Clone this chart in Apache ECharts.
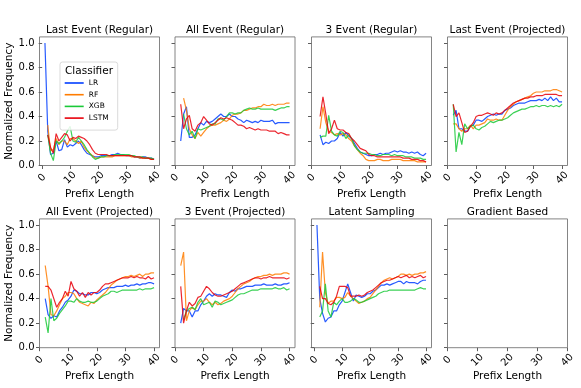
<!DOCTYPE html>
<html><head><meta charset="utf-8">
<script src="https://cdn.jsdelivr.net/npm/echarts@6/dist/echarts.min.js"></script>
<style>html,body{margin:0;padding:0;background:#fff}#c{width:581px;height:388px}</style>
</head><body><div id="c"></div>
<script>
// ---------------- DATA ----------------
const classifiers = ['LR', 'RF', 'XGB', 'LSTM'];
const panelTitles = ['Last Event (Regular)', 'All Event (Regular)', '3 Event (Regular)', 'Last Event (Projected)',
                     'All Event (Projected)', '3 Event (Projected)', 'Latent Sampling', 'Gradient Based'];
const prefixLengths = [1,2,3,4,5,6,7,8,9,10,11,12,13,14,15,16,17,18,19,20,21,22,23,24,25,26,27,28,29,30,31,32,33,34,35,36,37,38,39,40];
const xTickValues = [0, 10, 20, 30, 40];
const yTickValues = [0, 0.2, 0.4, 0.6, 0.8, 1.0];

// Last Event (Regular)
const lastReg_LR   = [1.00,0.28,0.09,0.10,0.20,0.12,0.13,0.21,0.15,0.17, 0.16,0.18,0.20,0.17,0.13,0.10,0.09,0.08,0.07,0.07, 0.08,0.08,0.08,0.08,0.09,0.09,0.10,0.09,0.09,0.08, 0.08,0.08,0.07,0.07,0.06,0.07,0.07,0.06,0.06,0.05];
const lastReg_RF   = [null,0.33,0.12,0.13,0.22,0.17,0.20,0.20,0.17,0.22, 0.22,0.20,0.18,0.20,0.15,0.12,0.10,0.08,0.06,0.06, 0.07,0.07,0.07,0.07,0.07,0.08,0.08,0.08,0.08,0.08, 0.08,0.07,0.07,0.07,0.06,0.06,0.06,0.06,0.05,0.05];
const lastReg_XGB  = [null,0.25,0.10,0.04,0.20,0.18,0.20,0.23,0.28,0.32, 0.20,0.19,0.23,0.20,0.17,0.13,0.10,0.07,0.05,0.06, 0.07,0.07,0.08,0.08,0.08,0.09,0.09,0.09,0.09,0.09, 0.09,0.08,0.08,0.07,0.07,0.07,0.06,0.06,0.06,0.05];
const lastReg_LSTM = [null,0.25,0.15,0.10,0.26,0.20,0.23,0.26,0.25,0.20, 0.23,0.22,0.24,0.23,0.22,0.20,0.17,0.13,0.10,0.09, 0.09,0.09,0.09,0.08,0.08,0.08,0.08,0.08,0.08,0.08, 0.08,0.08,0.07,0.07,0.07,0.06,0.06,0.06,0.05,0.05];
// All Event (Regular)
const allReg_LR    = [null,0.20,0.42,0.48,0.23,0.23,0.25,0.30,0.35,0.33, 0.36,0.35,0.36,0.38,0.40,0.42,0.40,0.40,0.42,0.40, 0.40,0.38,0.37,0.35,0.37,0.36,0.35,0.36,0.35,0.37, 0.36,0.36,0.36,0.37,0.34,0.35,0.35,0.35,0.35,0.35];
const allReg_RF    = [null,null,0.55,0.45,0.30,0.25,0.22,0.27,0.24,0.27, 0.30,0.32,0.33,0.33,0.34,0.35,0.37,0.36,0.38,0.41, 0.42,0.42,0.43,0.45,0.45,0.46,0.47,0.47,0.48,0.48, 0.50,0.49,0.49,0.50,0.49,0.50,0.50,0.50,0.51,0.51];
const allReg_XGB   = [null,null,0.42,0.30,0.25,0.28,0.22,0.30,0.29,0.30, 0.31,0.32,0.34,0.34,0.38,0.38,0.37,0.40,0.43,0.43, 0.42,0.43,0.43,0.45,0.46,0.47,0.46,0.46,0.47,0.46, 0.46,0.46,0.46,0.46,0.45,0.46,0.47,0.47,0.48,0.48];
const allReg_LSTM  = [null,0.50,0.30,0.38,0.41,0.30,0.28,0.33,0.35,0.40, 0.37,0.34,0.33,0.35,0.37,0.39,0.38,0.39,0.38,0.37, 0.35,0.33,0.33,0.32,0.30,0.31,0.30,0.29,0.30,0.29, 0.29,0.29,0.28,0.28,0.28,0.26,0.27,0.26,0.25,0.25];
// 3 Event (Regular)
const threeReg_LR   = [null,null,0.25,0.17,0.19,0.18,0.20,0.20,0.22,0.27, 0.24,0.27,0.24,0.22,0.18,0.14,0.11,0.10,0.09,0.08, 0.08,0.09,0.09,0.10,0.09,0.10,0.10,0.11,0.12,0.11, 0.12,0.11,0.11,0.10,0.11,0.10,0.11,0.09,0.08,0.10];
const threeReg_RF   = [null,null,0.30,0.48,0.35,0.28,0.27,0.25,0.26,0.25, 0.26,0.25,0.22,0.20,0.16,0.13,0.10,0.08,0.05,0.04, 0.04,0.04,0.05,0.05,0.04,0.04,0.04,0.05,0.05,0.05, 0.05,0.04,0.04,0.04,0.04,0.04,0.03,0.03,0.03,0.03];
const threeReg_XGB  = [null,null,0.23,0.24,0.24,0.41,0.28,0.25,0.24,0.28, 0.27,0.22,0.25,0.22,0.16,0.13,0.11,0.10,0.10,0.10, 0.09,0.09,0.08,0.08,0.09,0.09,0.09,0.08,0.09,0.08, 0.08,0.08,0.07,0.07,0.07,0.06,0.06,0.06,0.05,0.05];
const threeReg_LSTM = [null,null,0.40,0.56,0.42,0.26,0.30,0.37,0.30,0.29, 0.29,0.27,0.26,0.22,0.20,0.17,0.14,0.13,0.12,0.09, 0.08,0.08,0.07,0.07,0.07,0.07,0.07,0.07,0.07,0.07, 0.07,0.06,0.06,0.06,0.05,0.05,0.05,0.04,0.04,0.03];
// Last Event (Projected)
const lastProj_LR   = [null,0.41,0.45,0.30,0.30,0.28,0.28,0.32,0.33,0.37, 0.37,0.36,0.38,0.40,0.41,0.42,0.41,0.42,0.42,0.45, 0.46,0.47,0.49,0.50,0.51,0.51,0.51,0.52,0.53,0.53, 0.53,0.54,0.53,0.55,0.53,0.56,0.53,0.55,0.52,0.52];
const lastProj_RF   = [null,0.34,0.34,0.30,0.28,0.30,0.30,0.33,0.30,0.33, 0.33,0.34,0.35,0.38,0.37,0.37,0.38,0.37,0.37,0.41, 0.45,0.48,0.50,0.52,0.53,0.54,0.55,0.56,0.57,0.59, 0.60,0.60,0.60,0.61,0.61,0.61,0.62,0.62,0.61,0.60];
const lastProj_XGB  = [null,0.50,0.11,0.27,0.17,0.34,0.30,0.32,0.33,0.30, 0.29,0.31,0.32,0.34,0.36,0.35,0.36,0.37,0.37,0.38, 0.39,0.41,0.43,0.44,0.45,0.46,0.46,0.47,0.48,0.48, 0.49,0.48,0.49,0.49,0.48,0.49,0.48,0.49,0.48,0.50];
const lastProj_LSTM = [null,0.50,0.40,0.43,0.35,0.27,0.28,0.32,0.35,0.40, 0.41,0.41,0.42,0.43,0.42,0.41,0.43,0.42,0.43,0.45, 0.47,0.49,0.51,0.52,0.53,0.54,0.55,0.55,0.56,0.56, 0.57,0.57,0.57,0.58,0.58,0.58,0.58,0.58,0.57,0.57];
// All Event (Projected)
const allProj_LR    = [null,0.40,0.27,0.24,0.26,0.25,0.30,0.33,0.37,0.39, 0.42,0.47,0.46,0.44,0.44,0.43,0.43,0.45,0.45,0.44, 0.45,0.47,0.48,0.49,0.49,0.49,0.50,0.50,0.50,0.51, 0.50,0.51,0.51,0.52,0.51,0.52,0.52,0.53,0.53,0.52];
const allProj_RF    = [null,0.67,0.50,0.27,0.26,0.30,0.35,0.40,0.42,0.45, 0.45,0.44,0.40,0.37,0.36,0.35,0.34,0.37,0.36,0.39, 0.41,0.43,0.45,0.48,0.51,0.53,0.55,0.56,0.57,0.58, 0.58,0.59,0.58,0.59,0.60,0.58,0.60,0.60,0.61,0.61];
const allProj_XGB   = [null,0.25,0.12,0.40,0.22,0.24,0.28,0.31,0.34,0.38, 0.38,0.37,0.40,0.38,0.37,0.37,0.38,0.37,0.37,0.38, 0.40,0.42,0.43,0.44,0.46,0.46,0.45,0.46,0.47,0.47, 0.47,0.47,0.47,0.47,0.48,0.47,0.48,0.48,0.48,0.49];
const allProj_LSTM  = [null,0.50,0.50,0.47,0.40,0.33,0.37,0.40,0.46,0.42, 0.54,0.48,0.46,0.42,0.45,0.41,0.45,0.43,0.45,0.45, 0.47,0.50,0.52,0.52,0.53,0.54,0.55,0.56,0.57,0.57, 0.57,0.58,0.57,0.58,0.57,0.57,0.56,0.58,0.56,0.57];
// 3 Event (Projected)
const threeProj_LR   = [null,0.20,0.32,0.30,0.30,0.25,0.30,0.30,0.35,0.38, 0.42,0.44,0.42,0.44,0.43,0.43,0.42,0.41,0.45,0.47, 0.46,0.48,0.48,0.49,0.50,0.50,0.50,0.51,0.51,0.51, 0.52,0.51,0.51,0.51,0.52,0.51,0.51,0.52,0.52,0.53];
const threeProj_RF   = [null,0.67,0.78,0.22,0.30,0.33,0.31,0.35,0.38,0.38, 0.40,0.37,0.35,0.37,0.35,0.36,0.38,0.39,0.40,0.42, 0.45,0.48,0.50,0.52,0.53,0.54,0.56,0.57,0.58,0.58, 0.59,0.59,0.60,0.59,0.60,0.60,0.60,0.61,0.61,0.60];
const threeProj_XGB  = [null,null,0.23,0.30,0.32,0.33,0.31,0.37,0.40,0.35, 0.36,0.37,0.33,0.38,0.37,0.35,0.36,0.37,0.38,0.39, 0.41,0.43,0.44,0.44,0.45,0.46,0.47,0.47,0.47,0.48, 0.48,0.48,0.48,0.48,0.49,0.48,0.48,0.49,0.47,0.48];
const threeProj_LSTM = [null,0.50,0.20,0.30,0.37,0.34,0.36,0.41,0.42,0.46, 0.50,0.48,0.45,0.43,0.42,0.42,0.43,0.44,0.45,0.46, 0.48,0.50,0.52,0.53,0.54,0.55,0.56,0.57,0.57,0.56, 0.57,0.57,0.58,0.57,0.57,0.57,0.57,0.57,0.56,0.57];
// Latent Sampling
const latent_LR   = [1.00,0.40,0.28,0.21,0.24,0.25,0.30,0.30,0.35,0.38, 0.45,0.52,0.45,0.38,0.43,0.42,0.41,0.42,0.44,0.44, 0.46,0.47,0.49,0.51,0.51,0.52,0.51,0.52,0.53,0.54, 0.54,0.52,0.54,0.53,0.53,0.53,0.52,0.54,0.55,0.55];
const latent_RF   = [null,0.33,0.78,0.45,0.36,0.38,0.38,0.41,0.41,0.40, 0.41,0.45,0.42,0.40,0.38,0.36,0.37,0.38,0.40,0.41, 0.44,0.47,0.50,0.53,0.55,0.56,0.57,0.56,0.57,0.58, 0.60,0.60,0.59,0.60,0.59,0.60,0.60,0.61,0.61,0.62];
const latent_XGB  = [null,0.25,0.30,0.52,0.30,0.25,0.37,0.35,0.38,0.40, 0.37,0.37,0.38,0.40,0.39,0.37,0.37,0.38,0.39,0.40, 0.41,0.42,0.44,0.45,0.46,0.46,0.47,0.47,0.47,0.47, 0.47,0.47,0.47,0.47,0.47,0.47,0.48,0.49,0.48,0.48];
const latent_LSTM = [null,0.50,0.40,0.40,0.36,0.35,0.37,0.42,0.50,0.50, 0.50,0.49,0.42,0.42,0.42,0.43,0.42,0.43,0.45,0.46, 0.47,0.49,0.51,0.53,0.54,0.55,0.55,0.56,0.57,0.58, 0.57,0.58,0.59,0.57,0.58,0.57,0.58,0.59,0.57,0.58];

const panelSeries = [
  [lastReg_LR, lastReg_RF, lastReg_XGB, lastReg_LSTM],
  [allReg_LR, allReg_RF, allReg_XGB, allReg_LSTM],
  [threeReg_LR, threeReg_RF, threeReg_XGB, threeReg_LSTM],
  [lastProj_LR, lastProj_RF, lastProj_XGB, lastProj_LSTM],
  [allProj_LR, allProj_RF, allProj_XGB, allProj_LSTM],
  [threeProj_LR, threeProj_RF, threeProj_XGB, threeProj_LSTM],
  [latent_LR, latent_RF, latent_XGB, latent_LSTM],
  []
];

// ---------------- LAYOUT / STYLE ----------------
const FONT = 'DejaVu Sans';
const colors = ['#023eff', '#ff7c00', '#1ac938', '#e8000b'];
const lefts = [39.5, 175, 311.5, 447.5];
const tops = [36.9, 218.9];
const heights = [128.6, 128.8];
const W = 120;
const xRanges = [[-0.95, 41.95], [0, 41.9], [0, 41.9], [0, 41.9], [0, 41.9], [0, 41.9], [-0.95, 41.95], [0, 40]];

const grid = [], xAxis = [], yAxis = [], series = [], graphic = [];
panelTitles.forEach((title, i) => {
  const r = Math.floor(i / 4), c = i % 4;
  grid.push({ left: lefts[c], top: tops[r], width: W, height: heights[r], show: true,
    borderColor: '#666', borderWidth: 0.8, backgroundColor: 'transparent', z: 3 });
  xAxis.push({
    type: 'value', gridIndex: i, min: xRanges[i][0], max: xRanges[i][1],
    splitLine: { show: false }, axisLine: { show: false },
    axisTick: { show: true, inside: false, length: 3.5, customValues: xTickValues, lineStyle: { color: '#333', width: 0.8 } },
    axisLabel: { customValues: xTickValues, rotate: 45, align: 'center', verticalAlign: 'middle', margin: 12.5,
      fontFamily: FONT, fontSize: 10, color: '#000', formatter: v => String(Math.round(v)) },
    name: 'Prefix Length', nameLocation: 'middle', nameGap: 21,
    nameTextStyle: { fontFamily: FONT, fontSize: 10.5, color: '#000' }
  });
  const showY = (c === 0);
  yAxis.push({
    type: 'value', gridIndex: i, min: 0, max: 1.05,
    splitLine: { show: false }, axisLine: { show: false },
    axisTick: { show: true, inside: false, length: 3.5, customValues: yTickValues, lineStyle: { color: '#333', width: 0.8 } },
    axisLabel: { show: showY, customValues: yTickValues, margin: 5, fontFamily: FONT, fontSize: 10, color: '#000',
      formatter: v => v.toFixed(1) },
    name: showY ? 'Normalized Frequency' : '', nameLocation: 'middle', nameGap: 23,
    nameTextStyle: { fontFamily: FONT, fontSize: 10.5, color: '#000' }
  });
  graphic.push({ type: 'text', x: lefts[c] + W / 2, y: tops[r] - 6.5, z: 100,
    style: { text: title, fontFamily: FONT, fontSize: 10.5, fill: '#000', align: 'center', verticalAlign: 'middle' } });
  panelSeries[i].forEach((vals, k) => {
    series.push({
      name: classifiers[k], type: 'line', xAxisIndex: i, yAxisIndex: i,
      data: prefixLengths.map((x, j) => [x, vals[j]]),
      showSymbol: false, symbol: 'none', silent: true, connectNulls: false,
      lineStyle: { color: colors[k], width: 1.2, opacity: 0.85 },
      itemStyle: { color: colors[k] }
    });
  });
});

graphic.push({ type: 'text', x: 89, y: 71, z: 200,
  style: { text: 'Classifier', fontFamily: FONT, fontSize: 10.5, fill: '#000', align: 'center', verticalAlign: 'middle' } });

const option = {
  animation: false,
  backgroundColor: '#fff',
  grid, xAxis, yAxis, series, graphic,
  legend: {
    data: classifiers, orient: 'vertical', left: 60, top: 62,
    padding: [16.5, 9, 7.5, 4.7], itemGap: 2.7, itemWidth: 19, itemHeight: 1.6, icon: 'rect',
    textStyle: { fontFamily: FONT, fontSize: 7.5, lineHeight: 9, color: '#000' },
    borderColor: '#d0d0d0', borderWidth: 0.8, borderRadius: 2.5, backgroundColor: 'rgba(255,255,255,0.85)',
    selectedMode: false, z: 150
  }
};
const chart = echarts.init(document.getElementById('c'), null, { renderer: 'canvas' });
chart.setOption(option);
</script>
</body></html>
